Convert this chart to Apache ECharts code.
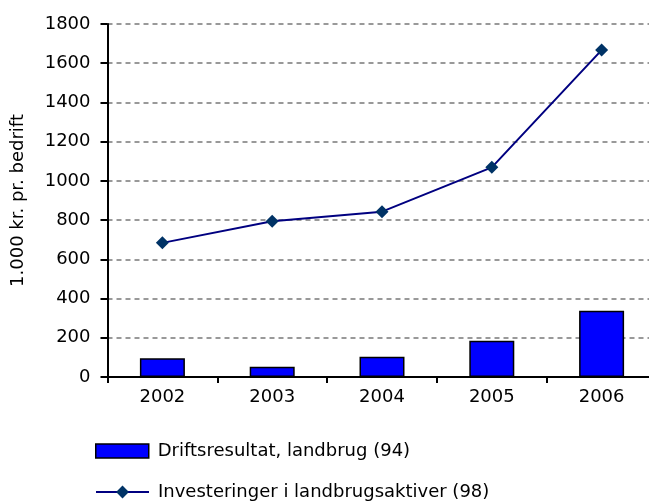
<!DOCTYPE html>
<html>
<head>
<meta charset="utf-8">
<script src="https://cdn.jsdelivr.net/npm/echarts@6/dist/echarts.min.js"></script>
<style>html,body{margin:0;padding:0;background:#fff}#c{width:649px;height:503px}</style>
</head>
<body>
<div id="c"></div>
<script>
var categories = ['2002', '2003', '2004', '2005', '2006'];
var driftsresultat = [95, 52, 103, 185, 338];
var investeringer = [684, 794, 843, 1069, 1667];
var barName = 'Driftsresultat, landbrug (94)';
var lineName = 'Investeringer i landbrugsaktiver (98)';
var yTitle = '1.000 kr. pr. bedrift';

var font = 'DejaVu Sans, sans-serif';
var fs = 18;
var chart = echarts.init(document.getElementById('c'), null, {renderer: 'canvas'});
var legendText = {fontFamily: font, fontSize: fs, color: '#000', padding: [0, 0, 0, 4]};
chart.setOption({
  animation: false,
  backgroundColor: '#ffffff',
  grid: {left: 107.5, top: 24, width: 549, height: 353, containLabel: false, outerBoundsMode: 'none'},
  legend: [
    {
      orient: 'horizontal', left: 90, top: 437, itemWidth: 53, itemHeight: 14,
      textStyle: legendText,
      data: [{name: barName, icon: 'rect', itemStyle: {color: '#0000ff', borderColor: '#000', borderWidth: 1.5}}]
    },
    {
      orient: 'horizontal', left: 90, top: 478, itemWidth: 53, itemHeight: 16,
      textStyle: legendText,
      data: [{name: lineName}]
    }
  ],
  xAxis: {
    type: 'category', data: categories,
    axisLine: {lineStyle: {color: '#000', width: 2}},
    axisTick: {show: true, alignWithLabel: false, length: 6, lineStyle: {color: '#000', width: 2}},
    axisLabel: {fontFamily: font, fontSize: fs, color: '#000', margin: 11},
    splitLine: {show: false}
  },
  yAxis: {
    type: 'value', min: 0, max: 1800, interval: 200,
    name: yTitle, nameLocation: 'middle', nameRotate: 90, nameGap: 80,
    nameTextStyle: {fontFamily: font, fontSize: fs, color: '#000'},
    axisLine: {show: true, lineStyle: {color: '#000', width: 2}},
    axisTick: {show: true, inside: false, length: 7, lineStyle: {color: '#000', width: 2}},
    axisLabel: {fontFamily: font, fontSize: fs, color: '#000', margin: 17, formatter: function (v) { return String(v); }},
    splitLine: {show: true, lineStyle: {color: '#999', width: 2, type: [5, 4]}}
  },
  series: [
    {
      name: barName, type: 'bar', data: driftsresultat, barWidth: 45,
      itemStyle: {color: '#0000ff', borderColor: '#000', borderWidth: 1.5}
    },
    {
      name: lineName, type: 'line', data: investeringer,
      symbol: 'diamond', symbolSize: 13,
      lineStyle: {color: '#000080', width: 2},
      itemStyle: {color: '#003366'}
    }
  ]
});
</script>
</body>
</html>
